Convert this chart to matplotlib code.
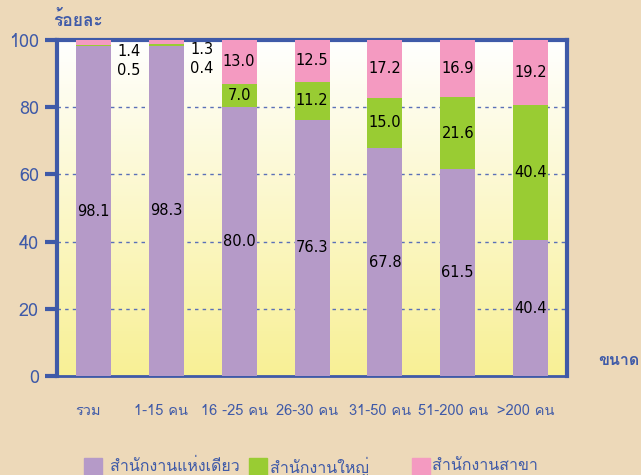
import numpy as np
import matplotlib
matplotlib.use("Agg")
import matplotlib.pyplot as plt
from matplotlib import font_manager, ft2font
from matplotlib.patches import Rectangle

# data (percent)
categories = ["รวม", "1-15 คน", "16 -25 คน", "26-30 คน", "31-50 คน", "51-200 คน", ">200 คน"]
single_office = [98.1, 98.3, 80.0, 76.3, 67.8, 61.5, 40.4]
head_office = [0.5, 0.4, 7.0, 11.2, 15.0, 21.6, 40.4]
branch_office = [1.4, 1.3, 13.0, 12.5, 17.2, 16.9, 19.2]
series_names = ["สำนักงานแห่งเดียว", "สำนักงานใหญ่", "สำนักงานสาขา"]
yticks = [0, 20, 40, 60, 80, 100]

# find a font that can draw Thai
thai_font = None
for f in font_manager.fontManager.ttflist:
    try:
        if 0x0E2A in ft2font.FT2Font(f.fname).get_charmap():
            thai_font = f.name
            break
    except Exception:
        pass
fams = ([thai_font] if thai_font else []) + ["DejaVu Sans"]
plt.rcParams["font.family"] = fams

bg = "#EDD9B9"
blue = "#3F5AA8"
purple = "#B59AC8"
green = "#99CC33"
pink = "#F49AC1"

fig = plt.figure(figsize=(6.41, 4.75), dpi=100, facecolor=bg)
ax = fig.add_axes([0.089, 0.2084, 0.7956, 0.7074])

x = np.arange(len(categories))
w = 0.48

# gradient background
grad = np.linspace(0, 1, 256).reshape(-1, 1)
cmap = matplotlib.colors.LinearSegmentedColormap.from_list("bg", ["#F8F095", "#FFFFFF"])
ax.imshow(grad, extent=[-0.5, 6.5, 0, 100], origin="lower", aspect="auto",
          cmap=cmap, zorder=0)

b1 = ax.bar(x, single_office, w, color=purple, zorder=3)
b2 = ax.bar(x, head_office, w, bottom=single_office, color=green, zorder=3)
bottoms = np.array(single_office) + np.array(head_office)
b3 = ax.bar(x, branch_office, w, bottom=bottoms, color=pink, zorder=3)

# labels
lab = dict(fontsize=10.5, color="black", zorder=5, family="DejaVu Sans",
           ha="center", va="center")
for i in range(len(categories)):
    ax.text(x[i], single_office[i] / 2, f"{single_office[i]:.1f}", **lab)
    if head_office[i] < 3:
        ax.text(x[i] + 0.49, 96.6 + 0.5 * i, f"{branch_office[i]:.1f}", **lab)
        ax.text(x[i] + 0.49, 91.0 + 0.5 * i, f"{head_office[i]:.1f}", **lab)
    else:
        ax.text(x[i], single_office[i] + head_office[i] / 2, f"{head_office[i]:.1f}", **lab)
        ax.text(x[i], bottoms[i] + branch_office[i] / 2, f"{branch_office[i]:.1f}", **lab)

ax.set_xlim(-0.5, 6.5)
ax.set_ylim(0, 100)
ax.set_yticks(yticks)
ax.set_yticklabels([str(t) for t in yticks], fontsize=13, color=blue)
ax.tick_params(axis="y", length=9, width=3, color=blue, pad=4)
ax.set_xticks(x - 0.07)
ax.set_xticklabels(categories, fontsize=10.5, color=blue)
ax.tick_params(axis="x", length=0, pad=20)
for t in yticks[1:-1]:
    ax.axhline(t, color="#5A70B8", lw=1, ls=(0, (2.5, 3)), zorder=1)

for side in ["left", "top", "right"]:
    ax.spines[side].set_color(blue)
    ax.spines[side].set_linewidth(3)
ax.spines["bottom"].set_color(blue)
ax.spines["bottom"].set_linewidth(2)

fig.text(0.083, 0.958, "ร้อยละ", fontsize=12.5, color=blue, ha="left", va="center",
         fontweight="bold")
fig.text(0.997, 0.241, "ขนาด", fontsize=11.5, color=blue, ha="right", va="center",
         fontweight="bold")

# legend
for px, tx, c, name in [(0.131, 0.171, purple, series_names[0]),
                        (0.389, 0.421, green, series_names[1]),
                        (0.643, 0.674, pink, series_names[2])]:
    fig.add_artist(Rectangle((px, 0.0), 0.028, 0.036, transform=fig.transFigure,
                             color=c))
    fig.text(tx, 0.018, name, fontsize=11.5, color=blue, ha="left", va="center")

fig.savefig("out.png", dpi=100, facecolor=bg)
